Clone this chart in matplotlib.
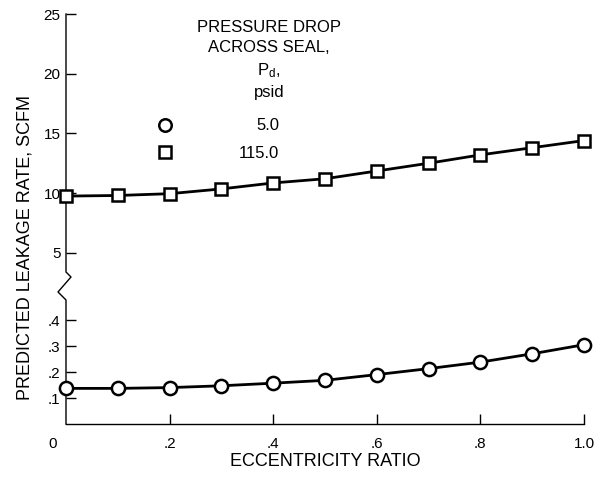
import numpy as np
import matplotlib
matplotlib.use("Agg")
import matplotlib.pyplot as plt
from matplotlib import transforms

plt.rcParams['font.family'] = ['Liberation Sans', 'DejaVu Sans']
plt.rcParams['mathtext.fontset'] = 'custom'
plt.rcParams['mathtext.rm'] = 'Liberation Sans'
plt.rcParams['mathtext.it'] = 'Liberation Sans'

# ---- data ----
ecc = [0.0, 0.1, 0.2, 0.3, 0.4, 0.5, 0.6, 0.7, 0.8, 0.9, 1.0]
leak_5 = [0.137, 0.137, 0.14, 0.147, 0.157, 0.168, 0.19, 0.213, 0.238, 0.27, 0.305]
leak_115 = [9.75, 9.8, 9.95, 10.35, 10.85, 11.2, 11.85, 12.5, 13.2, 13.8, 14.4]
ytick_vals = [0.1, 0.2, 0.3, 0.4, 5, 10, 15, 20, 25]
ytick_labels = ['.1', '.2', '.3', '.4', '5', '10', '15', '20', '25']
xtick_vals = [0.0, 0.2, 0.4, 0.6, 0.8, 1.0]
xtick_labels = ['0', '.2', '.4', '.6', '.8', '1.0']
legend_labels = ['5.0', '115.0']

# broken-axis scale: piecewise linear
_bx = np.array([0.0, 0.5, 3.5, 25.0])
_by = np.array([0.0, 130.0, 153.3, 410.0])

def fwd(v):
    v = np.asarray(v, dtype=float)
    out = np.interp(v, _bx, _by)
    out = np.where(v < 0, v * 260.0, out)
    out = np.where(v > 25, 410.0 + (v - 25) * 11.94, out)
    return out

def inv(p):
    p = np.asarray(p, dtype=float)
    out = np.interp(p, _by, _bx)
    out = np.where(p < 0, p / 260.0, out)
    out = np.where(p > 410, 25 + (p - 410) / 11.94, out)
    return out

W, H = 610, 483
fig = plt.figure(figsize=(W / 100, H / 100), dpi=100)
ax = fig.add_axes([66 / W, 1 - 424 / H, 518 / W, 410 / H])
ax.set_yscale('function', functions=(fwd, inv))
ax.set_xlim(0, 1.0)
ax.set_ylim(0, 25)

for s in ['top', 'right', 'left']:
    ax.spines[s].set_visible(False)
ax.spines['bottom'].set_linewidth(1.0)

# left spine with break zigzag (axes-x, data-y)
px = 1 / 518
spx = [0, 0, -8 * px, 5 * px, 0, 0]
spy = [0, 0.477, 0.76, 2.69, 3.33, 25]
ax.plot(spx, spy, color='black', lw=1.0, transform=ax.get_yaxis_transform(),
        clip_on=False, zorder=2)

ax.set_yticks(ytick_vals)
ax.set_yticklabels(ytick_labels)
ax.set_xticks(xtick_vals)
ax.set_xticklabels(xtick_labels)
ax.yaxis.set_minor_locator(matplotlib.ticker.NullLocator())
ax.tick_params(axis='y', direction='in', length=7, width=1.0, labelsize=11, pad=4)
ax.tick_params(axis='x', direction='in', length=7, width=1.0, labelsize=11, pad=9)
# shift the "0" x label left
lbl0 = ax.get_xticklabels()[0]
lbl0.set_transform(lbl0.get_transform() + transforms.ScaledTranslation(-13 / 100, 0, fig.dpi_scale_trans))
ax.xaxis.get_major_ticks()[0].tick1line.set_visible(False)

ax.plot(ecc, leak_5, color='black', lw=2.0, marker='o', ms=9.5, mfc='white',
        mec='black', mew=1.8, clip_on=False, zorder=3)
ax.plot(ecc, leak_115, color='black', lw=2.0, marker='s', ms=8.5, mfc='white',
        mec='black', mew=1.8, clip_on=False, zorder=3)

# legend block
def axc(x, y):
    return ((x - 66) / 518, (424 - y) / 410)

tfs = 12
for txt, yy in [('PRESSURE DROP', 27), ('ACROSS SEAL,', 48), (r'P$_\mathrm{d}$,', 71), ('psid', 92)]:
    ax.text(*axc(269, yy), txt, transform=ax.transAxes, ha='center', va='center', fontsize=tfs)
ax.plot(*axc(165, 125), marker='o', ms=9, mfc='white', mec='black', mew=1.8,
        transform=ax.transAxes, clip_on=False)
ax.plot(*axc(165, 152), marker='s', ms=8.5, mfc='white', mec='black', mew=1.8,
        transform=ax.transAxes, clip_on=False)
ax.text(*axc(279, 125), legend_labels[0], transform=ax.transAxes, ha='right', va='center', fontsize=tfs)
ax.text(*axc(279, 153), legend_labels[1], transform=ax.transAxes, ha='right', va='center', fontsize=tfs)

fig.text(25 / W, 1 - 247 / H, 'PREDICTED LEAKAGE RATE, SCFM', rotation=90,
         ha='center', va='center', fontsize=13)
fig.text(325 / W, 1 - 462 / H, 'ECCENTRICITY RATIO', ha='center', va='center', fontsize=13)

fig.savefig('out.png', dpi=100, facecolor='white')
